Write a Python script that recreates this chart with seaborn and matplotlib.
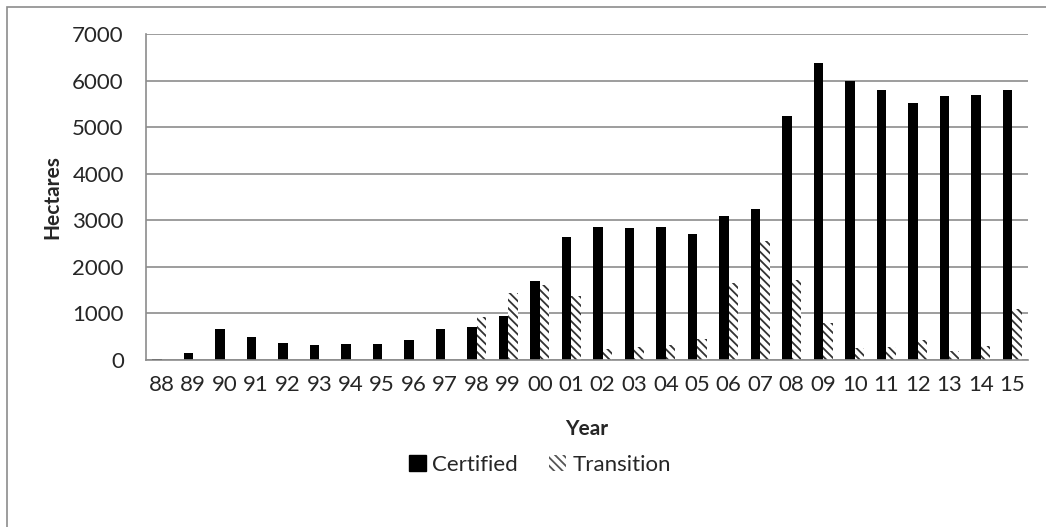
import matplotlib
matplotlib.use("Agg")
import matplotlib.pyplot as plt
import matplotlib.patches as mpatches
import seaborn as sns
import pandas as pd
import numpy as np

years = ['88', '89', '90', '91', '92', '93', '94', '95', '96', '97', '98', '99', '00', '01',
         '02', '03', '04', '05', '06', '07', '08', '09', '10', '11', '12', '13', '14', '15']
certified = [30, 140, 660, 500, 370, 320, 340, 340, 430, 675, 710, 935, 1700, 2640,
             2850, 2825, 2850, 2710, 3085, 3235, 5235, 6370, 5990, 5790, 5525, 5675, 5685, 5795]
transition = [0, 0, 0, 0, 0, 0, 0, 0, 0, 0, 930, 1435, 1610, 1375,
              230, 285, 320, 445, 1645, 2560, 1720, 800, 250, 285, 430, 200, 300, 1095]
series = ['Certified', 'Transition']

df = pd.DataFrame({
    'Year': years * 2,
    'Hectares': certified + transition,
    'Series': [series[0]] * len(years) + [series[1]] * len(years),
})

sns.set_style("white")
plt.rcParams['font.family'] = ['Lato', 'DejaVu Sans']
plt.rcParams['hatch.linewidth'] = 1.3
FS = 16

fig = plt.figure(figsize=(10.46, 5.27), dpi=100)
W, H = 1046, 527
ax = fig.add_axes([146 / W, 1 - 360 / H, (1028 - 146) / W, (360 - 34) / H])

# outer chart frame (only left/top visible in the reference)
fig.patches.append(mpatches.Rectangle((7 / W, -0.05), 1.2, 1 - 7 / H + 0.05,
                                      transform=fig.transFigure, fill=False,
                                      edgecolor='#8c8c8c', linewidth=1.2))

sns.barplot(data=df, x='Year', y='Hectares', hue='Series', order=years,
            hue_order=series, palette=['black', 'white'], width=0.6,
            saturation=1, legend=False, ax=ax)

n = len(years)
for i, bar in enumerate(ax.patches):
    if i >= n:
        bar.set_facecolor('white')
        bar.set_edgecolor('#333333')
        bar.set_hatch('\\\\\\\\')
        bar.set_linewidth(0)
    else:
        bar.set_linewidth(0)

ax.set_ylim(0, 7000)
ax.set_xlim(-0.5, n - 0.5)
ax.set_yticks(range(0, 7001, 1000))
ax.yaxis.grid(True, color='#8c8c8c', linewidth=1.2)
ax.set_axisbelow(True)
for s in ['top', 'right']:
    ax.spines[s].set_visible(False)
for s in ['left', 'bottom']:
    ax.spines[s].set_color('#8c8c8c')
    ax.spines[s].set_linewidth(1.2)

# category boundary ticks on x
ax.set_xticks(np.arange(n))
ax.set_xticklabels(years)
ax.tick_params(axis='x', length=0, labelsize=FS, pad=11)
ax.set_xticks(np.arange(-0.5, n, 1), minor=True)
ax.tick_params(axis='x', which='minor', length=6, color='#8c8c8c', width=1.2, direction='out')
ax.tick_params(axis='y', length=0, labelsize=FS, pad=16)

ax.set_xlabel('Year', fontsize=FS - 1, fontweight='bold', labelpad=17)
ax.set_ylabel('Hectares', fontsize=FS - 1, fontweight='bold', labelpad=7)

handles = [mpatches.Patch(facecolor='black', edgecolor='black', label='Certified'),
           mpatches.Patch(facecolor='white', edgecolor='#555555', hatch='\\\\\\\\',
                          linewidth=0, label='Transition')]
fig.legend(handles=handles, loc='center', bbox_to_anchor=(540 / W, 1 - 465 / H),
           ncol=2, frameon=False, fontsize=FS, handlelength=0.75, handleheight=0.75,
           handletextpad=0.3, columnspacing=1.4)

fig.savefig('out.png', dpi=100)
